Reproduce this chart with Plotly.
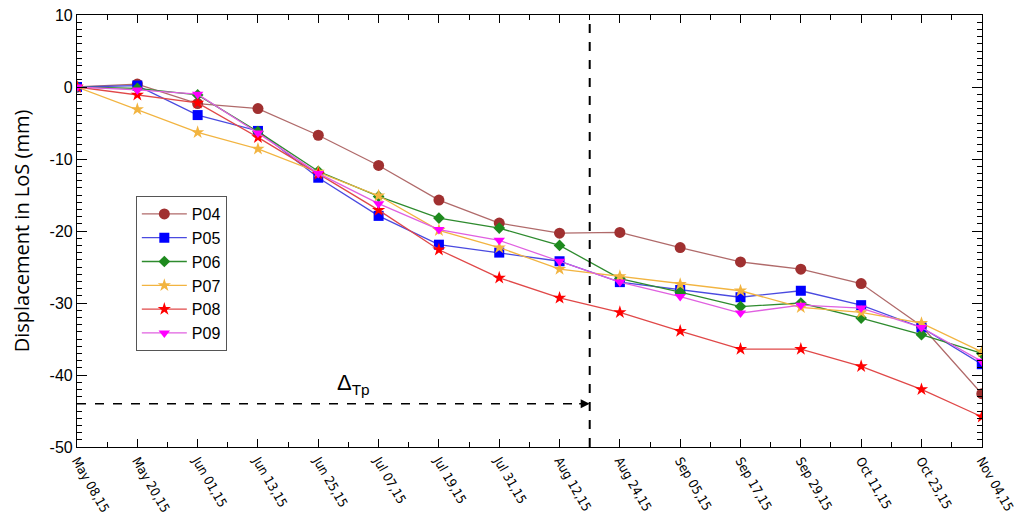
import plotly.graph_objects as go

dates = ["2015-05-08", "2015-05-20", "2015-06-01", "2015-06-13", "2015-06-25", "2015-07-07",
         "2015-07-19", "2015-07-31", "2015-08-12", "2015-08-24", "2015-09-05", "2015-09-17",
         "2015-09-29", "2015-10-11", "2015-10-23", "2015-11-04"]
tick_labels = ["May 08,15", "May 20,15", "Jun 01,15", "Jun 13,15", "Jun 25,15", "Jul 07,15",
               "Jul 19,15", "Jul 31,15", "Aug 12,15", "Aug 24,15", "Sep 05,15", "Sep 17,15",
               "Sep 29,15", "Oct 11,15", "Oct 23,15", "Nov 04,15"]
y_ticks = [10, 0, -10, -20, -30, -40, -50]
y_tick_labels = ["10", "0", "-10", "-20", "-30", "-40", "-50"]

p04 = [0, 0.4, -2.3, -3.0, -6.7, -10.9, -15.7, -18.9, -20.3, -20.2, -22.3, -24.3, -25.3, -27.3, -33.2, -42.6]
p05 = [0, 0.2, -3.9, -6.1, -12.6, -17.9, -21.9, -23.0, -24.2, -27.1, -28.2, -29.2, -28.3, -30.3, -33.4, -38.5]
p06 = [0, -0.2, -1.1, -6.2, -11.7, -15.2, -18.2, -19.6, -22.0, -26.6, -28.5, -30.5, -30.0, -32.1, -34.4, -37.0]
p07 = [0, -3.1, -6.3, -8.6, -11.8, -15.1, -19.9, -22.3, -25.3, -26.3, -27.4, -28.3, -30.6, -31.3, -32.8, -36.8]
p08 = [0, -1.1, -2.2, -7.0, -12.1, -17.1, -22.6, -26.5, -29.3, -31.3, -33.9, -36.4, -36.4, -38.8, -42.0, -45.8]
p09 = [0, -0.4, -1.0, -6.4, -12.0, -16.2, -19.8, -21.3, -24.2, -27.1, -29.1, -31.4, -30.3, -30.7, -33.4, -38.1]

series = [
    ("P04", p04, "#A03030", "#B06A6A", "circle", 11),
    ("P05", p05, "#0000FF", "#4A4AE0", "square", 10),
    ("P06", p06, "#1E8A1E", "#2E8B2E", "diamond", 9),
    ("P07", p07, "#F2B440", "#F2B440", "star", 10),
    ("P08", p08, "#FF0000", "#E04848", "star", 10),
    ("P09", p09, "#FF00FF", "#E060E0", "triangle-down", 10),
]

tp_date = "2015-08-18"
tp_level = -44.0

fig = go.Figure()
for name, vals, mcol, lcol, sym, size in series:
    fig.add_trace(go.Scatter(
        x=dates, y=vals, name=name, mode="lines+markers",
        line=dict(color=lcol, width=1.3),
        marker=dict(color=mcol, symbol=sym, size=size, line=dict(width=0)),
    ))

# vertical dashed line
fig.add_shape(type="line", xref="x", yref="paper", x0=tp_date, x1=tp_date, y0=0, y1=1,
              line=dict(color="black", width=2, dash="dash"))
# horizontal dashed arrow
fig.add_shape(type="line", xref="x", yref="y", x0=dates[0], x1="2015-08-16", y0=tp_level, y1=tp_level,
              line=dict(color="black", width=1.5, dash="dash"))
fig.add_annotation(x=tp_date, y=tp_level, xref="x", yref="y", ax=-12, ay=0,
                   showarrow=True, arrowhead=2, arrowsize=1.2, arrowwidth=1.5, arrowcolor="black", text="")
fig.add_annotation(x="2015-07-02", y=-41.3, xref="x", yref="y", showarrow=False,
                   text="Δ<sub>Tp</sub>", font=dict(size=22, color="black", family="Liberation Sans"))

fig.update_layout(
    width=1017, height=525,
    margin=dict(l=77, r=35, t=15, b=78),
    plot_bgcolor="white", paper_bgcolor="white",
    showlegend=True,
    legend=dict(x=0.065, y=0.581, xanchor="left", yanchor="top",
                bordercolor="#555555", borderwidth=1, bgcolor="white",
                font=dict(size=16, family="Liberation Sans", color="black"),
                tracegroupgap=0, itemwidth=45),
)
fig.update_xaxes(
    type="date", range=[dates[0], "2015-11-04 01:00"], automargin=False,
    tickvals=dates, ticktext=tick_labels, tickangle=60, ticklabeloverflow="allow",
    tickfont=dict(size=13, family="Liberation Sans Narrow, DejaVu Sans Condensed, Roboto", color="black"),
    showline=True, linecolor="black", linewidth=1.2, mirror="ticks",
    ticks="inside", ticklen=8, tickcolor="black",
    minor=dict(ticks="inside", ticklen=5, dtick=6 * 86400000, tick0=dates[0], tickcolor="black"),
    showgrid=False, zeroline=False,
)
fig.update_yaxes(
    range=[-50, 10], automargin=False,
    tickvals=y_ticks, ticktext=y_tick_labels,
    tickfont=dict(size=16, family="Liberation Sans", color="black"),
    title=dict(text="Displacement in LoS (mm)", font=dict(size=20, family="Open Sans", color="black"), standoff=14),
    showline=True, linecolor="black", linewidth=1.2, mirror="ticks",
    ticks="inside", ticklen=10, tickcolor="black",
    minor=dict(ticks="inside", ticklen=5, dtick=1, tickcolor="black"),
    showgrid=False, zeroline=False,
)

fig.write_html("out.html", config={"displayModeBar": False},
               post_script="document.body.style.margin='0';")
